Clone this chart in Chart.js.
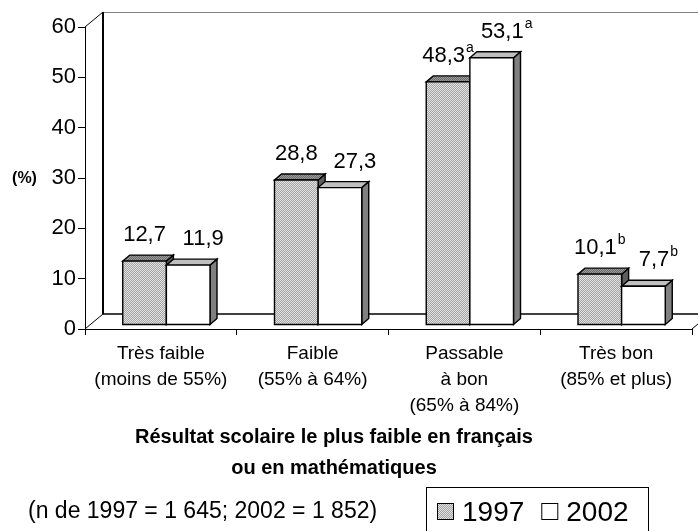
<!DOCTYPE html>
<html>
<head>
<meta charset="utf-8">
<script src="https://cdn.jsdelivr.net/npm/chart.js@4/dist/chart.umd.min.js"></script>
<style>
  html, body { margin: 0; padding: 0; background: #fff; }
  #wrap { width: 698px; height: 531px; position: relative; }
</style>
</head>
<body>
<div id="wrap"><canvas id="chart" width="698" height="531"></canvas></div>
<script>
// ---- data ----
const categories = [
  ["Très faible", "(moins de 55%)"],
  ["Faible", "(55% à 64%)"],
  ["Passable", "à bon", "(65% à 84%)"],
  ["Très bon", "(85% et plus)"]
];
const years = ["1997", "2002"];
const values1997 = [12.7, 28.8, 48.3, 10.1];
const values2002 = [11.9, 27.3, 53.1, 7.7];
const notes1997 = ["", "", "a", "b"];
const notes2002 = ["", "", "a", "b"];
const yTicks = [0, 10, 20, 30, 40, 50, 60];
const yLabel = "(%)";
const axisTitle = ["Résultat scolaire le plus faible en français", "ou en mathématiques"];
const sampleNote = "(n de 1997 = 1 645; 2002 = 1 852)";

// ---- look ----
const FONT = "'Liberation Sans', Arial, Helvetica, sans-serif";
const DEPTH = { x: 18, y: 15 };       // floor / wall depth
const BAR_SHIFT = { x: 5.5, y: -4 };  // bars sit a little back in the floor
const BAR_DEPTH = { x: 7, y: 6 };

const canvas = document.getElementById("chart");
const ctx = canvas.getContext("2d");

function dither(c1, c2) {
  const pc = document.createElement("canvas");
  pc.width = 2; pc.height = 2;
  const p = pc.getContext("2d");
  p.fillStyle = c1; p.fillRect(0, 0, 2, 2);
  p.fillStyle = c2; p.fillRect(0, 0, 1, 1); p.fillRect(1, 1, 1, 1);
  return ctx.createPattern(pc, "repeat");
}

const faces = [
  { front: dither("#a4a4a4", "#e2e2e2"), top: dither("#6a6a6a", "#9c9c9c"), side: "#5e5e5e" },
  { front: "#ffffff", top: "#c0c0c0", side: "#808080" }
];
const notes = [notes1997, notes2002];
const labelShift = [0, 15];

const fmt = v => v.toFixed(1).replace(".", ",");

function line(c, x1, y1, x2, y2) {
  c.beginPath(); c.moveTo(x1, y1); c.lineTo(x2, y2); c.stroke();
}
function poly(c, pts, fill) {
  c.beginPath();
  c.moveTo(pts[0][0], pts[0][1]);
  for (let k = 1; k < pts.length; k++) c.lineTo(pts[k][0], pts[k][1]);
  c.closePath();
  c.fillStyle = fill; c.fill(); c.stroke();
}

// ---- back wall and floor ----
const walls = {
  id: "walls",
  beforeDatasetsDraw(chart) {
    const { ctx: c, chartArea: a } = chart;
    const ys = chart.scales.y;
    const top = ys.getPixelForValue(ys.max), bot = ys.getPixelForValue(0);
    const l = a.left, r = a.right;
    c.save();
    c.strokeStyle = "#000"; c.lineWidth = 1;
    line(c, l, top, l + DEPTH.x, top - DEPTH.y);
    line(c, l, bot, l + DEPTH.x, bot - DEPTH.y);
    line(c, r, bot, r + DEPTH.x, bot - DEPTH.y);
    c.strokeStyle = "#808080";
    line(c, l + DEPTH.x, top - DEPTH.y + 0.5, r + DEPTH.x, top - DEPTH.y + 0.5);
    c.strokeStyle = "#000"; c.lineWidth = 2;
    line(c, l + DEPTH.x, top - DEPTH.y, l + DEPTH.x, bot - DEPTH.y);
    c.lineWidth = 1.5;
    line(c, l + DEPTH.x, bot - DEPTH.y, r + DEPTH.x, bot - DEPTH.y);
    c.restore();
  }
};

// ---- 3D columns and value labels ----
const columns = {
  id: "columns",
  afterDatasetsDraw(chart) {
    const c = chart.ctx;
    const n = chart.data.labels.length;
    const boxes = [];
    c.save();
    c.strokeStyle = "#000"; c.lineWidth = 1.4; c.lineJoin = "miter";
    for (let i = 0; i < n; i++) {
      chart.data.datasets.forEach((ds, d) => {
        const el = chart.getDatasetMeta(d).data[i];
        const { x, y, base, width } = el.getProps(["x", "y", "base", "width"], true);
        const x0 = x - width / 2 + BAR_SHIFT.x, x1 = x + width / 2 + BAR_SHIFT.x;
        const yt = y + BAR_SHIFT.y, yb = base + BAR_SHIFT.y;
        const dx = BAR_DEPTH.x, dy = BAR_DEPTH.y;
        poly(c, [[x1, yt], [x1 + dx, yt - dy], [x1 + dx, yb - dy], [x1, yb]], faces[d].side);
        poly(c, [[x0, yt], [x1, yt], [x1 + dx, yt - dy], [x0 + dx, yt - dy]], faces[d].top);
        poly(c, [[x0, yt], [x1, yt], [x1, yb], [x0, yb]], faces[d].front);
        boxes.push({ d, i, cx: (x0 + x1) / 2, yt, v: ds.data[i] });
      });
    }
    c.fillStyle = "#000";
    c.textBaseline = "middle";
    c.textAlign = "left";
    boxes.forEach(b => {
      const txt = fmt(b.v), note = notes[b.d][b.i];
      c.font = "22px " + FONT;
      const w = c.measureText(txt).width;
      c.font = "14px " + FONT;
      const nw = note ? c.measureText(note).width + 1 : 0;
      const sx = b.cx + labelShift[b.d] - (w + nw) / 2;
      const cy = b.yt - 26;
      c.font = "22px " + FONT;
      c.fillText(txt, sx, cy);
      if (note) {
        c.font = "14px " + FONT;
        c.fillText(note, sx + w + 1, cy - 8);
      }
    });
    c.restore();
  }
};

// ---- axis title, sample note, legend ----
const extras = {
  id: "extras",
  afterDraw(chart) {
    const c = chart.ctx;
    const ys = chart.scales.y;
    c.save();
    c.fillStyle = "#000";
    c.textBaseline = "middle";

    c.font = "bold 16px " + FONT;
    c.textAlign = "center";
    c.fillText(yLabel, 24.5, ys.getPixelForValue(30) + 1);

    c.font = "bold 20px " + FONT;
    axisTitle.forEach((t, k) => c.fillText(t, 334, 437 + k * 31));

    c.font = "23px " + FONT;
    c.textAlign = "left";
    c.fillText(sampleNote, 28, 512);

    // legend box
    c.strokeStyle = "#000"; c.lineWidth = 1;
    c.strokeRect(426.5, 487.5, 222, 60);
    let lx = 437;
    c.font = "28px " + FONT;
    chart.data.datasets.forEach((ds, d) => {
      c.fillStyle = faces[d].front;
      c.fillRect(lx, 503, 16, 16);
      c.strokeRect(lx + 0.5, 503.5, 16, 16);
      c.fillStyle = "#000";
      c.fillText(ds.label, lx + 25, 513);
      lx += 25 + c.measureText(ds.label).width + 17;
    });
    c.restore();
  }
};

new Chart(canvas, {
  type: "bar",
  data: {
    labels: categories,
    datasets: [
      { label: years[0], data: values1997, backgroundColor: "rgba(0,0,0,0)", borderWidth: 0 },
      { label: years[1], data: values2002, backgroundColor: "rgba(0,0,0,0)", borderWidth: 0 }
    ]
  },
  options: {
    responsive: false,
    animation: false,
    devicePixelRatio: 1,
    layout: { padding: { top: 27, right: 6, left: 0, bottom: 0 } },
    datasets: { bar: { categoryPercentage: 0.575, barPercentage: 1 } },
    plugins: {
      legend: { display: false },
      tooltip: { enabled: false },
      title: { display: false }
    },
    scales: {
      x: {
        offset: true,
        grid: { display: true, offset: true, drawOnChartArea: false, drawTicks: true, tickLength: 6, color: "#000" },
        border: { display: true, color: "#000", width: 1 },
        ticks: {
          autoSkip: false, maxRotation: 0, padding: 6, color: "#000",
          font: { family: FONT, size: 19, lineHeight: 1.37 }
        },
        afterFit: s => { s.height = 202; }
      },
      y: {
        min: yTicks[0],
        max: yTicks[yTicks.length - 1],
        grid: { drawOnChartArea: false, drawTicks: true, tickLength: 7, color: "#000" },
        border: { display: true, color: "#000", width: 1 },
        ticks: {
          stepSize: yTicks[1] - yTicks[0], padding: 2, color: "#000",
          font: { family: FONT, size: 22 }
        },
        afterFit: s => { s.width = 85; }
      }
    }
  },
  plugins: [walls, columns, extras]
});
</script>
</body>
</html>
